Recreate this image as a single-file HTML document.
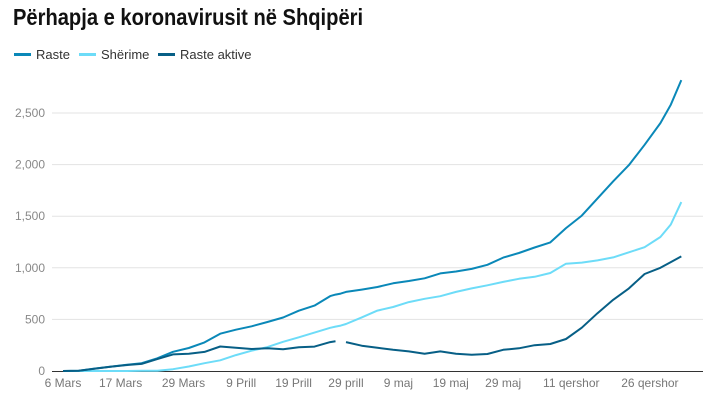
<!DOCTYPE html>
<html><head><meta charset="utf-8"><style>
body{margin:0;background:#fff;font-family:"Liberation Sans",sans-serif}
#t{position:absolute;left:13px;top:4px;font-size:23px;font-weight:bold;color:#111;transform:scaleX(0.875);transform-origin:0 0;white-space:nowrap}
.lg{position:absolute;top:47px;font-size:13px;color:#333;display:flex;align-items:center}
.lg i{display:inline-block;width:17px;height:3px;margin-right:5px}
</style></head><body>
<div id="t">Përhapja e koronavirusit në Shqipëri</div>
<div class="lg" style="left:14px"><i style="background:#0a88b8"></i>Raste</div>
<div class="lg" style="left:79px"><i style="background:#6ddcf8"></i>Shërime</div>
<div class="lg" style="left:158px"><i style="background:#075f86"></i>Raste aktive</div>
<svg id="c" width="709" height="402" style="position:absolute;left:0;top:0"></svg>
<script>
const days=[0,3,6,9,12,15,18,21,24,27,30,33,36,39,42,45,48,51,52,53,54,57,60,63,66,69,72,75,78,81,84,87,90,93,96,99,102,105,108,111,114,116,118];
const raste=[0,2,23,42,59,76,123,186,223,277,361,400,433,475,518,584,634,726,740,750,766,789,814,850,872,898,946,964,989,1029,1099,1143,1197,1246,1385,1506,1672,1838,1995,2192,2402,2580,2819];
const sherime=[0,0,0,0,0,2,2,17,44,76,104,154,197,232,283,327,372,419,430,440,455,519,585,620,668,700,725,766,800,830,863,893,913,950,1040,1050,1072,1101,1150,1200,1298,1420,1637];
const aktive=[0,2,22,41,57,69,115,161,168,185,237,226,213,220,210,230,236,280,288,null,280,245,225,205,190,168,190,168,158,165,205,220,250,262,310,420,560,690,800,940,1000,1055,1110];
const yTicks=[0,500,1000,1500,2000,2500];
const yLabels=["0","500","1,000","1,500","2,000","2,500"];
const xTickDays=[0,11,23,34,44,54,64,74,84,97,112];
const xLabels=["6 Mars","17 Mars","29 Mars","9 Prill","19 Prill","29 prill","9 maj","19 maj","29 maj","11 qershor","26 qershor"];
const X=d=>63+d*5.24, Y=v=>371-v*0.1032;
const svg=document.getElementById('c'),NS='http://www.w3.org/2000/svg';
function mk(t,a){const e=document.createElementNS(NS,t);for(const k in a)e.setAttribute(k,a[k]);svg.appendChild(e);return e;}
yTicks.forEach((v,i)=>{
 if(v>0){const g=mk('line',{x1:52,x2:703,y1:Y(v),y2:Y(v),stroke:'#e3e3e3','stroke-width':1});
 
 }
 const t=mk('text',{x:45,y:Y(v)+4,'text-anchor':'end','font-size':12,fill:'#888','font-family':'Liberation Sans'});t.textContent=yLabels[i];
 
 
});
const ax=mk('line',{x1:52,x2:703,y1:371.5,y2:371.5,stroke:'#333','stroke-width':1});


xTickDays.forEach((d,i)=>{const t=mk('text',{x:X(d),y:387,'text-anchor':'middle','font-size':12,fill:'#777','font-family':'Liberation Sans'});t.textContent=xLabels[i];
 
 });
function line(vals,col,name){let d='',pen=false;vals.forEach((v,i)=>{if(v==null){pen=false;return;}d+=(pen?'L':'M')+X(days[i]).toFixed(1)+','+Y(v).toFixed(1);pen=true;});
 const p=mk('path',{d:d,fill:'none',stroke:col,'stroke-width':2,'stroke-linejoin':'round'});
 
 }
line(sherime,'#6ddcf8','series-sherime');
line(raste,'#0a88b8','series-raste');
line(aktive,'#075f86','series-raste-aktive');
</script>
</body></html>
